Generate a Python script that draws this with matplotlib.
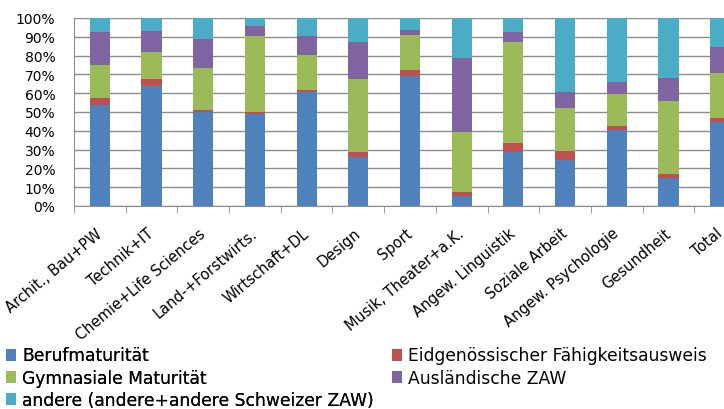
import numpy as np
import matplotlib
matplotlib.use('Agg')
import matplotlib.pyplot as plt
from matplotlib.patches import Patch
from matplotlib.ticker import PercentFormatter, FixedLocator, NullFormatter

plt.rcParams['font.family'] = ['DejaVu Sans']

categories = ['Archit., Bau+PW', 'Technik+IT', 'Chemie+Life Sciences',
              'Land-+Forstwirts.', 'Wirtschaft+DL', 'Design', 'Sport',
              'Musik, Theater+a.K.', 'Angew. Linguistik', 'Soziale Arbeit',
              'Angew. Psychologie', 'Gesundheit', 'Total']

# shares in percent, stacked bottom to top
berufmat = [53.9, 63.7, 49.8, 48.9, 60.6, 26.2, 69.1, 5.3, 28.7, 24.3, 40.4, 14.9, 44.5]
efz = [3.5, 3.9, 1.3, 0.9, 1.1, 2.5, 3.1, 2.1, 5.0, 5.0, 2.2, 1.9, 2.5]
gymmat = [17.6, 14.3, 22.3, 40.6, 18.8, 39.0, 18.8, 32.1, 53.4, 22.7, 17.1, 39.1, 23.7]
ausl_zaw = [17.4, 11.0, 15.4, 5.3, 9.9, 19.7, 2.8, 39.1, 5.6, 8.8, 6.4, 12.2, 13.9]
andere = [7.6, 7.1, 11.2, 4.3, 9.6, 12.6, 6.2, 21.4, 7.3, 39.2, 33.9, 31.9, 15.4]

series = [
    ('Berufmaturität', berufmat, '#4F81BD'),
    ('Eidgenössischer Fähigkeitsausweis', efz, '#C0504D'),
    ('Gymnasiale Maturität', gymmat, '#9BBB59'),
    ('Ausländische ZAW', ausl_zaw, '#8064A2'),
    ('andere (andere+andere Schweizer ZAW)', andere, '#4BACC6'),
]

fig = plt.figure(figsize=(7.24, 4.10), dpi=100)
ax = fig.add_axes([74/724, 203/410, 672/724, 188/410])

x = np.arange(len(categories))
bottom = np.zeros(len(categories))
for name, vals, col in series:
    vals = np.array(vals)
    ax.bar(x, vals, 0.39, bottom=bottom, color=col, linewidth=0, zorder=3)
    bottom += vals

ax.set_xlim(-0.5, len(categories) - 0.5)
ax.set_ylim(0, 100)
ax.set_yticks(np.arange(0, 101, 10))
ax.yaxis.set_major_formatter(PercentFormatter(decimals=0))
ax.grid(axis='y', color='#8c8c8c', linewidth=1, zorder=0)
ax.tick_params(axis='y', length=0, labelsize=10, pad=13.5, colors='#000000')

# category labels centred, tick marks on the boundaries
ax.set_xticks(x)
ax.set_xticklabels(categories, rotation=40, ha='right', va='center',
                   rotation_mode='anchor', fontsize=10.5)
ax.tick_params(axis='x', which='major', length=0, pad=18)
ax.xaxis.set_minor_locator(FixedLocator(np.arange(-0.5, len(categories), 1)))
ax.xaxis.set_minor_formatter(NullFormatter())
ax.tick_params(axis='x', which='minor', length=5, direction='out', color='#8c8c8c')

for s in ['top', 'right']:
    ax.spines[s].set_visible(False)
for s in ['left', 'bottom']:
    ax.spines[s].set_color('#8c8c8c')

# legend in two columns: left three entries, right two entries
leg_kw = dict(loc='upper left', frameon=False, fontsize=12.3,
              handlelength=0.6, handleheight=0.7, handletextpad=0.35,
              labelspacing=0.24, borderaxespad=0, borderpad=0)
left = [0, 2, 4]
right = [1, 3]
leg1 = fig.legend([Patch(facecolor=series[i][2], edgecolor='none') for i in left],
                  [series[i][0] for i in left],
                  bbox_to_anchor=(6/724, 1 - 347.5/410), **leg_kw)
fig.add_artist(leg1)
fig.legend([Patch(facecolor=series[i][2], edgecolor='none') for i in right],
           [series[i][0] for i in right],
           bbox_to_anchor=(392/724, 1 - 347.5/410), **leg_kw)

fig.savefig('out.png', dpi=100)
